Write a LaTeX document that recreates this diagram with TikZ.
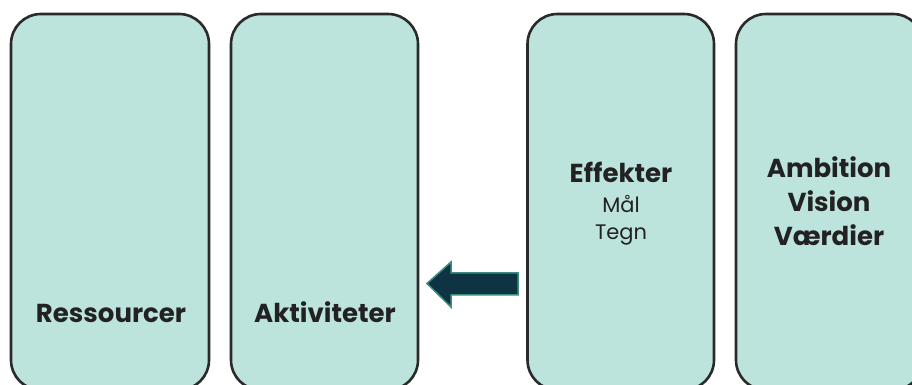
\documentclass[tikz,border=0pt]{standalone}
\usepackage{fontspec}
\setmainfont{Poppins}
\definecolor{boxfill}{HTML}{BDE4DC}
\definecolor{boxline}{HTML}{2A2A2A}
\definecolor{txt}{HTML}{222222}
\definecolor{arrowfill}{HTML}{0E3443}
\definecolor{arrowline}{HTML}{3E8C80}
\tikzset{
  panel/.style={draw=boxline, fill=boxfill, line width=2.6pt, rounded corners=30pt, inner sep=0pt},
  title/.style={anchor=base, text=txt, inner sep=0pt, font=\fontsize{26}{32}\selectfont\bfseries},
  sub/.style={anchor=base, text=txt, inner sep=0pt, font=\fontsize{21}{26}\selectfont},
}
\begin{document}
\begin{tikzpicture}[x=1pt,y=1pt]
\useasboundingbox (0,0) rectangle (912,385);
\clip (0,0) rectangle (912,385);
\fill[white] (0,0) rectangle (912,385);
\node[panel, minimum width=198pt, minimum height=376pt] (b1) at (110,183) {};
\node[panel, minimum width=187pt, minimum height=376pt] (b2) at (324.5,183) {};
\node[panel, minimum width=186.5pt, minimum height=376pt] (b3) at (620.75,183) {};
\node[panel, minimum width=187pt, minimum height=376pt] (b4) at (829.5,183) {};
\node[title] (t1) at (111,62) {Ressourcer};
\node[title] (t2) at (325,62) {Aktiviteter};
\node[title] (t3) at (621,202) {Effekter};
\node[sub] (t3a) at (621,172) {Mål};
\node[sub] (t3b) at (621,145) {Tegn};
\node[title] (t4a) at (829,207) {Ambition};
\node[title] (t4b) at (829,173) {Vision};
\node[title] (t4c) at (829,139) {Værdier};
\coordinate (tip) at (427,101.5);
\draw[fill=arrowfill, draw=arrowline, line width=1.5pt, line join=miter]
  (tip) -- (451,123) -- (451,112) -- (518,112) -- (518,90) -- (451,90) -- (451,78) -- cycle;
\end{tikzpicture}
\end{document}
